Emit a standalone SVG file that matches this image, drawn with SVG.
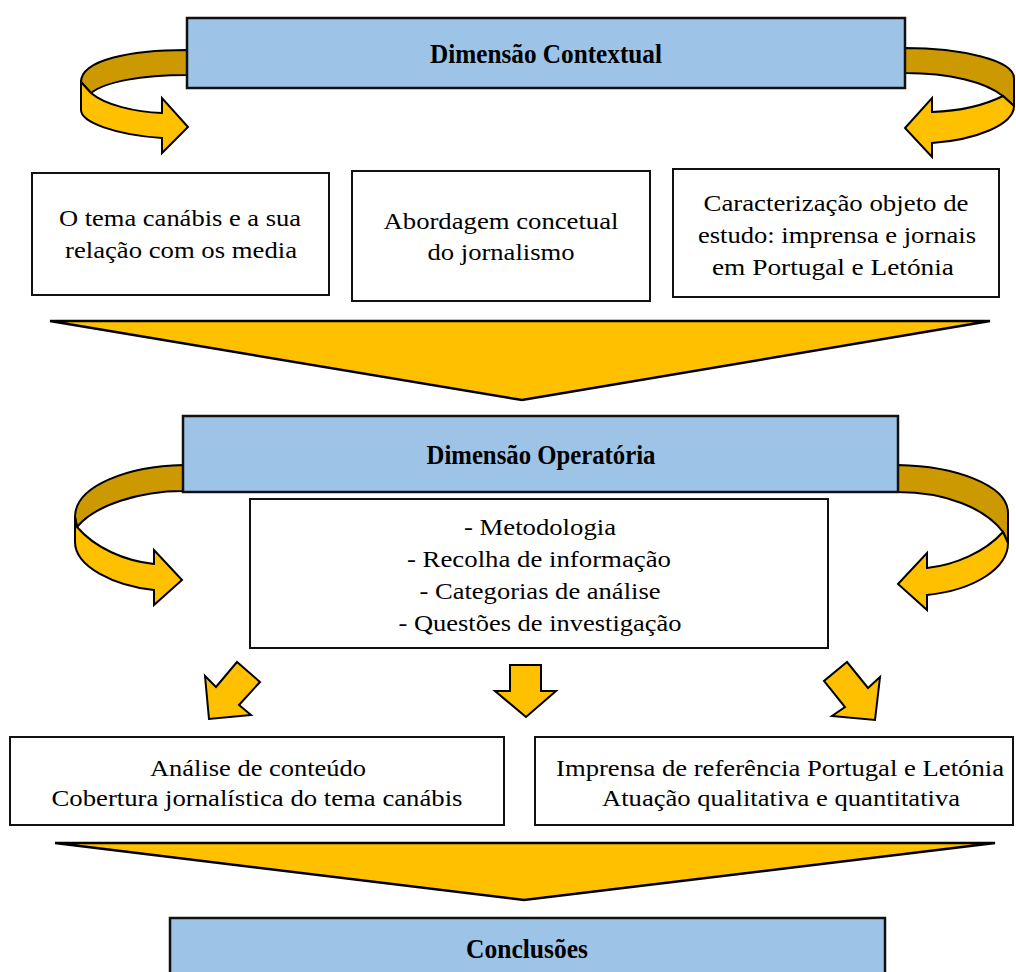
<svg xmlns="http://www.w3.org/2000/svg" width="1016" height="972" viewBox="0 0 1016 972">
<style>
.hdr{fill:#9DC3E6;stroke:#111;stroke-width:2.5}
.box{fill:#fff;stroke:#111;stroke-width:2}
.dk{fill:#CC9900;stroke:#000;stroke-width:2;stroke-linejoin:round}
.lt{fill:#FFC000;stroke:#000;stroke-width:2;stroke-linejoin:miter}
.tri{fill:#FFC000;stroke:#000;stroke-width:2.5;stroke-linejoin:miter}
.t{font-family:"Liberation Serif","Times New Roman",serif;font-size:24px;fill:#000;text-anchor:middle}
.h{font-family:"Liberation Serif","Times New Roman",serif;font-size:27px;font-weight:bold;fill:#000;text-anchor:middle}
</style>
<rect width="1016" height="972" fill="#fff"/>
<g id="connectors">
  <g id="curve-top-left">
    <path class="dk" d="M187,50 C130,50 81,60 81,82 L91,93 C105,82 140,75 187,75 Z"/>
    <path class="lt" d="M81,82 L91,93 C105,105 135,112 162,113 L162,98 L188,127 L162,153 L162,138 C115,135 81,122 81,110 Z"/>
  </g>
  <g id="curve-top-right">
    <path class="dk" d="M905,48 C960,48 1014,60 1014,78 L1014,106 L1003,96 C985,82 950,73 905,73 Z"/>
    <path class="lt" d="M1003,96 C985,105 960,111 932,112 L932,98 L905,128 L932,157 L932,143 C975,140 1014,125 1014,106 Z"/>
  </g>
  <g id="curve-mid-left">
    <path class="dk" d="M183,465 C130,466 75,485 75,517 L77,527 C95,505 140,491 183,491 Z"/>
    <path class="lt" d="M75,517 L77,527 C95,548 125,561 154,564 L154,550 L182,580 L154,605 L154,590 C115,586 75,567 75,542 Z"/>
  </g>
  <g id="curve-mid-right">
    <path class="dk" d="M898,465 C955,466 1008,485 1008,513 L1008,543 L1003,532 C985,508 945,492 898,492 Z"/>
    <path class="lt" d="M1003,532 C985,552 955,565 927,568 L927,553 L898,584 L927,610 L927,595 C975,590 1008,568 1008,543 Z"/>
  </g>
  <polygon id="funnel-1" class="tri" points="50,321 990,321 522,400"/>
  <polygon id="arrow-down-left" class="lt" points="237,662 216,687 205,676 209,719 251,715 239,705 260,682"/>
  <polygon id="arrow-down" class="lt" points="510,665 541,665 541,691 556,691 526,717 495,691 510,691"/>
  <polygon id="arrow-down-right" class="lt" points="847,662 868,688 880,677 875,720 832,716 845,707 824,681"/>
  <polygon id="funnel-2" class="tri" points="55,843 995,843 524,900"/>
</g>
<g id="dimensao-contextual">
  <rect class="hdr" x="187" y="18" width="718" height="70"/>
  <text class="h" x="546" y="63" textLength="232" lengthAdjust="spacingAndGlyphs">Dimensão Contextual</text>
</g>
<g id="tema-canabis">
  <rect class="box" x="32" y="173" width="297" height="122"/>
  <text class="t" x="180" y="226" textLength="242" lengthAdjust="spacingAndGlyphs">O tema canábis e a sua</text>
  <text class="t" x="181" y="258" textLength="232" lengthAdjust="spacingAndGlyphs">relação com os media</text>
</g>
<g id="abordagem">
  <rect class="box" x="352" y="171" width="298" height="130"/>
  <text class="t" x="501" y="229" textLength="235" lengthAdjust="spacingAndGlyphs">Abordagem concetual</text>
  <text class="t" x="501" y="260" textLength="147" lengthAdjust="spacingAndGlyphs">do jornalismo</text>
</g>
<g id="caracterizacao">
  <rect class="box" x="673" y="169" width="326" height="128"/>
  <text class="t" x="836" y="211" textLength="265" lengthAdjust="spacingAndGlyphs">Caracterização objeto de</text>
  <text class="t" x="837" y="243" textLength="278" lengthAdjust="spacingAndGlyphs">estudo: imprensa e jornais</text>
  <text class="t" x="833" y="275" textLength="242" lengthAdjust="spacingAndGlyphs">em Portugal e Letónia</text>
</g>
<g id="dimensao-operatoria">
  <rect class="hdr" x="183" y="416" width="715" height="76"/>
  <text class="h" x="541" y="464" textLength="229" lengthAdjust="spacingAndGlyphs">Dimensão Operatória</text>
</g>
<g id="metodologia">
  <rect class="box" x="250" y="499" width="578" height="149"/>
  <text class="t" x="540" y="535" textLength="152" lengthAdjust="spacingAndGlyphs">- Metodologia</text>
  <text class="t" x="539" y="567" textLength="264" lengthAdjust="spacingAndGlyphs">- Recolha de informação</text>
  <text class="t" x="540" y="599" textLength="241" lengthAdjust="spacingAndGlyphs">- Categorias de análise</text>
  <text class="t" x="540" y="631" textLength="283" lengthAdjust="spacingAndGlyphs">- Questões de investigação</text>
</g>
<g id="analise-conteudo">
  <rect class="box" x="10" y="737" width="494" height="88"/>
  <text class="t" x="258" y="776" textLength="216" lengthAdjust="spacingAndGlyphs">Análise de conteúdo</text>
  <text class="t" x="257" y="806" textLength="411" lengthAdjust="spacingAndGlyphs">Cobertura jornalística do tema canábis</text>
</g>
<g id="imprensa-referencia">
  <rect class="box" x="535" y="737" width="478" height="88"/>
  <text class="t" x="780" y="776" textLength="448" lengthAdjust="spacingAndGlyphs">Imprensa de referência Portugal e Letónia</text>
  <text class="t" x="781" y="806" textLength="358" lengthAdjust="spacingAndGlyphs">Atuação qualitativa e quantitativa</text>
</g>
<g id="conclusoes">
  <rect class="hdr" x="170" y="918" width="715" height="70"/>
  <text class="h" x="527" y="958" textLength="122" lengthAdjust="spacingAndGlyphs">Conclusões</text>
</g>
</svg>
